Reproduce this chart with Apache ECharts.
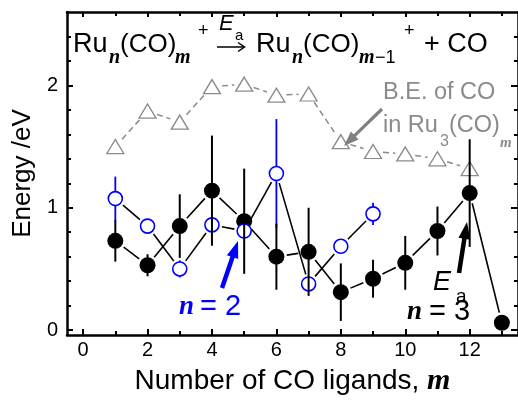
<!DOCTYPE html>
<html><head><meta charset="utf-8">
<script src="https://cdn.jsdelivr.net/npm/echarts@6/dist/echarts.min.js"></script>
<style>html,body{margin:0;padding:0;background:#fff}#c{width:518px;height:401px}</style>
</head><body><div id="c"></div>
<script>
// ---- data ----
const ligandsN3 = [1, 2, 3, 4, 5, 6, 7, 8, 9, 10, 11, 12, 13];
const eaN3 = [0.73, 0.53, 0.85, 1.14, 0.89, 0.60, 0.64, 0.31, 0.42, 0.55, 0.81, 1.12, 0.06];
const errN3 = [0.17, 0.09, 0.26, 0.45, 0.43, 0.27, 0.36, 0.235, 0.155, 0.22, 0.20, 0.44, 0.03];
const ligandsN2 = [1, 2, 3, 4, 5, 6, 7, 8, 9];
const eaN2 = [1.075, 0.85, 0.50, 0.86, 0.81, 1.28, 0.377, 0.685, 0.95];
const errN2 = [0.18, 0.06, 0.07, 0.04, 0.04, 0.445, 0.04, 0.06, 0.09];
const ligandsBE = [1, 2, 3, 4, 5, 6, 7, 8, 9, 10, 11, 12];
const beRu3 = [1.50, 1.79, 1.70, 1.99, 2.01, 1.92, 1.93, 1.54, 1.46, 1.44, 1.40, 1.32];
const xMajorTicks = [0, 2, 4, 6, 8, 10, 12];
const xMinorTicks = [1, 3, 5, 7, 9, 11, 13];
const yMajorTicks = [0, 1, 2];
const yMinorTicks = [0.2, 0.4, 0.6, 0.8, 1.2, 1.4, 1.6, 1.8, 2.2, 2.4];

const SANS = '"Liberation Sans", Arial, sans-serif';
const SERIF = '"Liberation Serif", "Times New Roman", serif';
const BLUE = '#0000ff';
const GRAY = '#8a8a8a';

const chart = echarts.init(document.getElementById('c'), null, {renderer: 'canvas'});

function zip(xs, ys, es) { return xs.map((x, i) => es ? [x, ys[i], es[i]] : [x, ys[i]]); }

function segSeries(xs, ys, gap, style, z) {
  const data = [];
  for (let i = 0; i < xs.length - 1; i++) data.push([xs[i], ys[i], xs[i + 1], ys[i + 1]]);
  return {
    type: 'custom', z: z, silent: true, clip: false, xAxisIndex: 0, yAxisIndex: 0,
    encode: {x: [0, 2], y: [1, 3]},
    renderItem: function (params, api) {
      const a = api.coord([api.value(0), api.value(1)]);
      const b = api.coord([api.value(2), api.value(3)]);
      const dx = b[0] - a[0], dy = b[1] - a[1], L = Math.hypot(dx, dy);
      if (L <= 2 * gap) return null;
      const ux = dx / L, uy = dy / L;
      return {type: 'line', shape: {x1: a[0] + ux * gap, y1: a[1] + uy * gap, x2: b[0] - ux * gap, y2: b[1] - uy * gap}, style: style};
    },
    data: data
  };
}
function errSeries(xs, ys, es, color, width, z) {
  return {
    type: 'custom', z: z, silent: true, clip: false, xAxisIndex: 0, yAxisIndex: 0,
    encode: {x: 0, y: 1},
    renderItem: function (params, api) {
      const x = api.value(0), v = api.value(1), e = api.value(2);
      const a = api.coord([x, v - e]), b = api.coord([x, v + e]);
      return {type: 'line', shape: {x1: a[0], y1: a[1], x2: b[0], y2: b[1]}, style: {stroke: color, lineWidth: width}};
    },
    data: zip(xs, ys, es)
  };
}

function xAx(pos, ticks, len, labels, showLine, extra) {
  return Object.assign({
    type: 'value', position: pos, min: -0.5, max: 13.5, gridIndex: 0,
    axisLine: {show: showLine, onZero: false, lineStyle: {color: '#000', width: 2.5}},
    axisTick: {show: true, inside: true, length: len, customValues: ticks, lineStyle: {color: '#000', width: 2}},
    axisLabel: labels ? {show: true, customValues: labels, color: '#000', fontSize: 20, fontFamily: SANS, margin: 5} : {show: false},
    splitLine: {show: false}
  }, extra || {});
}
function yAx(pos, ticks, len, labels, showLine, extra) {
  return Object.assign({
    type: 'value', position: pos, min: -0.04, max: 2.6, gridIndex: 0,
    axisLine: {show: showLine, onZero: false, lineStyle: {color: '#000', width: 2.5}},
    axisTick: {show: true, inside: true, length: len, customValues: ticks, lineStyle: {color: '#000', width: 2}},
    axisLabel: labels ? {show: true, customValues: labels, color: '#000', fontSize: 20, fontFamily: SANS, margin: 9} : {show: false},
    splitLine: {show: false}
  }, extra || {});
}

function t(x, y, text, font, color) {
  return {type: 'text', x: x, y: y, silent: true, z: 100,
    style: {text: text, font: font, fill: color || '#000', textAlign: 'left', align: 'left', textVerticalAlign: 'middle', verticalAlign: 'middle'}};
}
function arrow(x1, y1, x2, y2, color, w, hl, hw) {
  const dx = x2 - x1, dy = y2 - y1, L = Math.hypot(dx, dy), ux = dx / L, uy = dy / L;
  const bx = x2 - ux * hl, by = y2 - uy * hl, px = -uy, py = ux;
  return [
    {type: 'line', silent: true, z: 100, shape: {x1: x1, y1: y1, x2: bx + ux * 2, y2: by + uy * 2}, style: {stroke: color, lineWidth: w}},
    {type: 'polygon', silent: true, z: 100, shape: {points: [[x2, y2], [bx + px * hw / 2, by + py * hw / 2], [bx - px * hw / 2, by - py * hw / 2]]}, style: {fill: color}}
  ];
}

const F = (s) => s + 'px ' + SANS;
const FI = (s) => 'italic ' + s + 'px ' + SANS;
const BI = (s) => 'bold italic ' + s + 'px ' + SERIF;

const graphics = [
  t(73, 45, 'Ru', F(27)), t(109, 58, 'n', BI(20)), t(120, 45, '(CO)', F(26)), t(175, 58, 'm', BI(20)),
  t(198, 31, '+', F(18)), t(219, 24, 'E', FI(22)), t(235, 36, 'a', F(15)),
  t(256, 45, 'Ru', F(27)), t(292, 58, 'n', BI(20)), t(303, 45, '(CO)', F(26)), t(359, 58, 'm', BI(20)), t(375, 58, '\u22121', F(18)),
  t(404, 31, '+', F(18)), t(424, 45, '+ CO', F(27)),
  {type: 'line', silent: true, z: 100, shape: {x1: 217, y1: 47, x2: 244, y2: 47}, style: {stroke: '#000', lineWidth: 1.5}},
  {type: 'polyline', silent: true, z: 100, shape: {points: [[238, 42.5], [244.5, 47], [238, 51.5]]}, style: {stroke: '#000', lineWidth: 1.5, fill: null}},
  t(383, 93, 'B.E. of CO', F(23.5), GRAY),
  t(383, 126, 'in Ru', F(23.5), GRAY), t(440, 142, '3', F(16), GRAY), t(449, 126, '(CO)', F(23.5), GRAY), t(500, 143, 'm', BI(15), GRAY),
  t(179, 307, 'n', BI(27), BLUE), t(200, 307, '= 2', F(29), BLUE),
  t(433, 282, 'E', FI(27), '#000'), t(456, 297, 'a', F(19), '#000'),
  t(407, 312, 'n', BI(27), '#000'), t(429, 312, '= 3', F(29), '#000')
].concat(
  arrow(382, 109, 344, 146, '#808080', 3.2, 15, 11),
  arrow(222, 288, 238, 241, BLUE, 4.5, 17, 12),
  arrow(459, 273, 467, 222, '#000', 4.5, 17, 12)
);

const option = {
  backgroundColor: '#fff',
  animation: false,
  grid: {left: 67, top: 12, width: 457, height: 327, containLabel: false},
  xAxis: [
    xAx('bottom', xMajorTicks, 6, xMajorTicks, true, {
      name: 'Number of CO ligands, {m|m}', nameLocation: 'middle', nameGap: 31,
      nameTextStyle: {color: '#000', fontSize: 28, fontFamily: SANS, rich: {m: {fontSize: 30, fontFamily: SERIF, fontWeight: 'bold', fontStyle: 'italic', color: '#000'}}}
    }),
    xAx('bottom', xMinorTicks, 4, null, false),
    xAx('top', xMajorTicks, 5, null, true),
    xAx('top', xMinorTicks, 4, null, false)
  ],
  yAxis: [
    yAx('left', yMajorTicks, 6, yMajorTicks, true, {
      name: 'Energy /eV', nameLocation: 'middle', nameGap: 30,
      nameTextStyle: {color: '#000', fontSize: 26, fontFamily: SANS}
    }),
    yAx('left', yMinorTicks, 4, null, false),
    yAx('right', yMajorTicks, 7, null, true),
    yAx('right', yMinorTicks, 4, null, false)
  ],
  series: [
    segSeries(ligandsBE, beRu3, 10, {stroke: GRAY, lineWidth: 1.5, lineDash: [6, 4]}, 1),
    segSeries(ligandsN3, eaN3, 10.5, {stroke: '#000', lineWidth: 1.6}, 1),
    segSeries(ligandsN2, eaN2, 10, {stroke: '#000', lineWidth: 1.6}, 1),
    errSeries(ligandsN2, eaN2, errN2, BLUE, 1.8, 2),
    {type: 'scatter', z: 3, silent: true, xAxisIndex: 0, yAxisIndex: 0, symbol: 'triangle', symbolSize: [17, 14],
      itemStyle: {color: '#fff', borderColor: GRAY, borderWidth: 1.3, opacity: 1}, data: zip(ligandsBE, beRu3)},
    {type: 'scatter', z: 4, silent: true, xAxisIndex: 0, yAxisIndex: 0, symbol: 'circle', symbolSize: 16,
      itemStyle: {color: '#000', borderWidth: 0, opacity: 1}, data: zip(ligandsN3, eaN3)},
    {type: 'scatter', z: 5, silent: true, xAxisIndex: 0, yAxisIndex: 0, symbol: 'circle', symbolSize: 14,
      itemStyle: {color: '#fff', borderColor: BLUE, borderWidth: 1.6, opacity: 1}, data: zip(ligandsN2, eaN2)},
    errSeries(ligandsN3, eaN3, errN3, '#000', 2, 6)
  ],
  graphic: {elements: graphics}
};
chart.setOption(option);
</script></body></html>
